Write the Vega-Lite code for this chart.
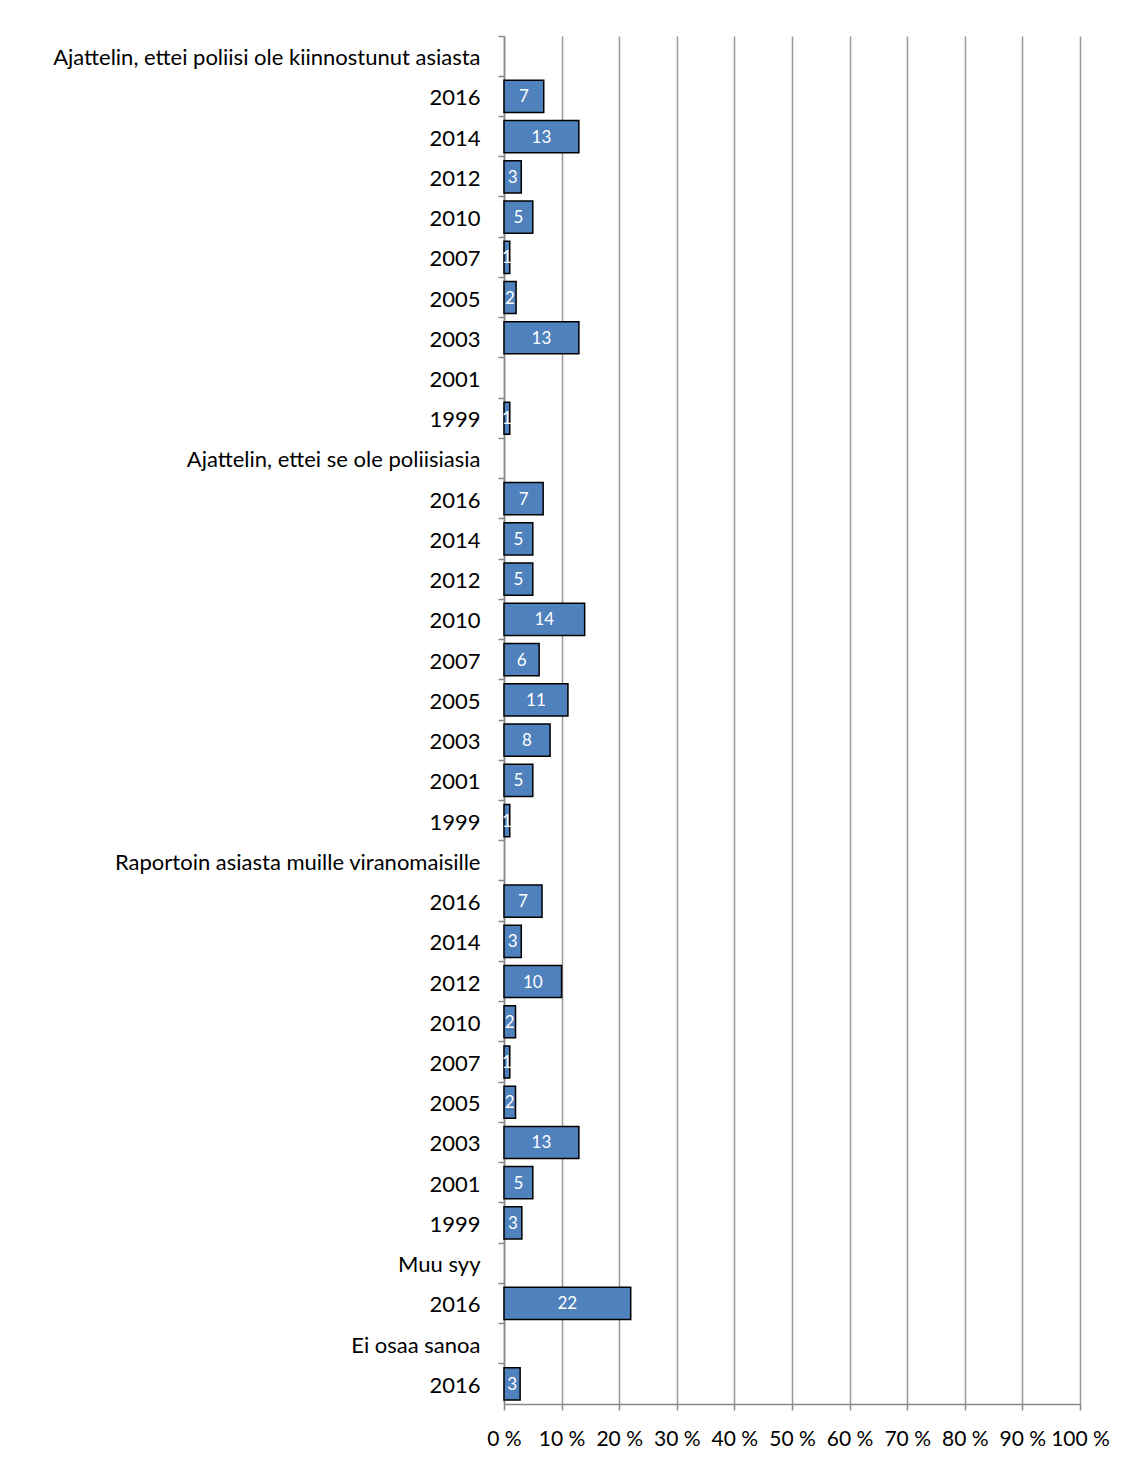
{
  "$schema": "https://vega.github.io/schema/vega-lite/v6.json",
  "autosize": "none",
  "width": 576,
  "height": 1368,
  "padding": {"left": 504, "top": 36, "right": 49, "bottom": 59},
  "background": "white",
  "data": {"values": [
    {"key": "01|Ajattelin, ettei poliisi ole kiinnostunut asiasta", "value": null},
    {"key": "02|2016", "value": 6.9},
    {"key": "03|2014", "value": 13},
    {"key": "04|2012", "value": 3},
    {"key": "05|2010", "value": 5},
    {"key": "06|2007", "value": 1},
    {"key": "07|2005", "value": 2.1},
    {"key": "08|2003", "value": 13},
    {"key": "09|2001", "value": null},
    {"key": "10|1999", "value": 1},
    {"key": "11|Ajattelin, ettei se ole poliisiasia", "value": null},
    {"key": "12|2016", "value": 6.8},
    {"key": "13|2014", "value": 5},
    {"key": "14|2012", "value": 5},
    {"key": "15|2010", "value": 14},
    {"key": "16|2007", "value": 6.1},
    {"key": "17|2005", "value": 11.1},
    {"key": "18|2003", "value": 8},
    {"key": "19|2001", "value": 5},
    {"key": "20|1999", "value": 1},
    {"key": "21|Raportoin asiasta muille viranomaisille", "value": null},
    {"key": "22|2016", "value": 6.6},
    {"key": "23|2014", "value": 3},
    {"key": "24|2012", "value": 10},
    {"key": "25|2010", "value": 2},
    {"key": "26|2007", "value": 1},
    {"key": "27|2005", "value": 2},
    {"key": "28|2003", "value": 13},
    {"key": "29|2001", "value": 5},
    {"key": "30|1999", "value": 3.1},
    {"key": "31|Muu syy", "value": null},
    {"key": "32|2016", "value": 22},
    {"key": "33|Ei osaa sanoa", "value": null},
    {"key": "34|2016", "value": 2.8}
  ]},
  "encoding": {
    "y": {
      "field": "key",
      "type": "nominal",
      "sort": "ascending",
      "scale": {"paddingInner": 0, "paddingOuter": 0},
      "axis": {
        "title": null,
        "labelExpr": "split(datum.value, '|')[1]",
        "bandPosition": 0,
        "tickSize": 6,
        "tickColor": "#888888",
        "tickWidth": 1.5,
        "domainColor": "#888888",
        "domainWidth": 1.5,
        "labelPadding": 18,
        "labelOffset": 2,
        "labelFont": "Lato",
        "labelFontSize": 22,
        "labelColor": "#000000",
        "labelLimit": 600,
        "grid": false
      }
    }
  },
  "layer": [
    {
      "mark": {"type": "rule", "opacity": 0},
      "encoding": {}
    },
    {
      "mark": {"type": "bar", "fill": "#4F81BD", "stroke": "#000000", "strokeWidth": 1.5, "height": {"band": 0.8}},
      "encoding": {
        "x": {
          "field": "value",
          "type": "quantitative",
          "scale": {"domain": [0, 100], "nice": false},
          "axis": {
            "title": null,
            "values": [0, 10, 20, 30, 40, 50, 60, 70, 80, 90, 100],
            "labelExpr": "datum.value + ' %'",
            "grid": true,
            "gridColor": "#999999",
            "gridWidth": 1.5,
            "tickSize": 6,
            "tickColor": "#888888",
            "tickWidth": 1.5,
            "domainColor": "#888888",
            "domainWidth": 1.5,
            "labelPadding": 18,
            "labelFont": "Lato",
            "labelFontSize": 21,
            "labelColor": "#000000",
            "labelFlush": false,
            "labelOverlap": false
          }
        }
      }
    },
    {
      "transform": [{"filter": "datum.value != null"}, {"calculate": "datum.value / 2", "as": "mid"}],
      "mark": {"type": "text", "color": "white", "font": "Lato", "fontSize": 17, "align": "center", "baseline": "middle", "dy": 1},
      "encoding": {
        "x": {"field": "mid", "type": "quantitative"},
        "text": {"field": "value", "type": "quantitative", "format": ".0f"}
      }
    }
  ],
  "config": {"view": {"stroke": null}}
}
